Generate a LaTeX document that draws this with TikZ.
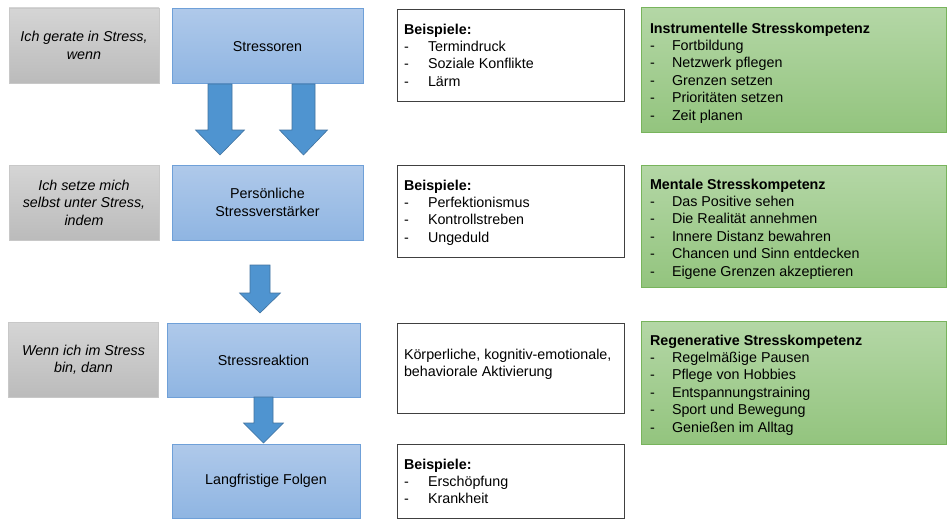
\documentclass[tikz,border=0pt]{standalone}
\usepackage{fontspec}
\setmainfont{Liberation Sans}
\usepackage{xcolor}
\usepackage{array}
\usepackage{tikz}
\usetikzlibrary{calc}

\definecolor{blauOben}{HTML}{AFC9EA}
\definecolor{blauUnten}{HTML}{8FB5E2}
\definecolor{blauRand}{HTML}{6FA0D8}
\definecolor{grauOben}{HTML}{D5D5D5}
\definecolor{grauUnten}{HTML}{BBBBBB}
\definecolor{grauRand}{HTML}{C8C8C8}
\definecolor{gruenOben}{HTML}{B4D7A6}
\definecolor{gruenUnten}{HTML}{93C47E}
\definecolor{gruenRand}{HTML}{78B45C}
\definecolor{pfeilFill}{HTML}{4F94D0}
\definecolor{pfeilRand}{HTML}{41729F}

\tikzset{
  box/.style={minimum width=#1, inner sep=0pt, outer sep=0pt, align=center},
  frage/.style={box=150pt, minimum height=75pt, draw=grauRand, line width=0.8pt,
    top color=grauOben, bottom color=grauUnten, font=\fontsize{14.3}{17.4}\selectfont\itshape},
  stufe/.style={box=#1, minimum height=75pt, draw=blauRand, line width=1pt,
    top color=blauOben, bottom color=blauUnten},
  beispiel/.style={box=227pt, draw=black!75, line width=0.8pt, fill=white},
  kompetenz/.style={box=305pt, draw=gruenRand, line width=1pt,
    top color=gruenOben, bottom color=gruenUnten},
  liste/.style={anchor=north west, inner sep=0pt, outer sep=0pt, align=left},
  pfeil/.style={fill=pfeilFill, draw=pfeilRand, line width=0.6pt, line join=miter}
}

% #1 start, #2 shaft length, #3 head length, #4 shaft half width, #5 head half width
\newcommand{\blockpfeil}[5]{%
  \filldraw[pfeil] #1 ++(-#4,0) -- ++(2*#4,0) -- ++(0,#2) -- ++(#5-#4,0)
    -- ++(-#5,#3) -- ++(-#5,-#3) -- ++(#5-#4,0) -- cycle;}

\begin{document}
\begin{tikzpicture}[x=1pt, y=-1pt, font=\fontsize{14.3}{17.4}\selectfont]
  \useasboundingbox (0,0) rectangle (948,519);

  % linke Spalte
  \node[frage] (frage1) at (84,45.5) {Ich gerate in Stress,\\wenn};
  \node[frage] (frage2) at (84,202.5) {Ich setze mich\\selbst unter Stress,\\indem};
  \node[frage] (frage3) at (83.5,360) {Wenn ich im Stress\\bin, dann};

  % Stufen
  \node[stufe=191pt] (stressoren) at (267.5,46.5) {Stressoren};
  \node[stufe=191pt] (verstaerker) at (267.5,202.5) {Persönliche\\Stressverstärker};
  \node[stufe=193pt, minimum height=74pt] (reaktion) at (263.5,360) {Stressreaktion};
  \node[stufe=188pt, minimum height=74pt] (folgen) at (266,481) {Langfristige Folgen};

  \blockpfeil{([xshift=-47.5pt]stressoren.south)}{46}{25}{12}{24.5}
  \blockpfeil{([xshift=36pt]stressoren.south)}{46}{25}{11.5}{24}
  \blockpfeil{([xshift=-7.5pt, yshift=-25pt]verstaerker.south)}{28}{20}{10}{20.5}
  \blockpfeil{(reaktion.south)}{26}{20}{9.5}{20}

  % Beispiele
  \node[beispiel, minimum height=92pt] (bsp1) at (510.5,55) {};
  \node[beispiel, minimum height=92pt] (bsp2) at (510.5,211) {};
  \node[beispiel, minimum height=90pt] (bsp3) at (510.5,368) {};
  \node[beispiel, minimum height=74pt] (bsp4) at (510.5,481) {};

  \node[liste] (bsp1text) at ([shift={(7,13)}]bsp1.north west) {\begin{tabular}{@{}p{24pt}@{}l@{}}
    \multicolumn{2}{@{}l@{}}{\textbf{Beispiele:}}\\
    -&Termindruck\\ -&Soziale Konflikte\\ -&Lärm
  \end{tabular}};
  \node[liste] (bsp2text) at ([shift={(7,13)}]bsp2.north west) {\begin{tabular}{@{}p{24pt}@{}l@{}}
    \multicolumn{2}{@{}l@{}}{\textbf{Beispiele:}}\\
    -&Perfektionismus\\ -&Kontrollstreben\\ -&Ungeduld
  \end{tabular}};
  \node[liste] (bsp3text) at ([shift={(7,24)}]bsp3.north west) {\begin{tabular}{@{}l@{}}
    Körperliche, kognitiv-emotionale,\\ behaviorale Aktivierung
  \end{tabular}};
  \node[liste] (bsp4text) at ([shift={(7,13)}]bsp4.north west) {\begin{tabular}{@{}p{24pt}@{}l@{}}
    \multicolumn{2}{@{}l@{}}{\textbf{Beispiele:}}\\
    -&Erschöpfung\\ -&Krankheit
  \end{tabular}};

  % Kompetenzen
  \node[kompetenz, minimum height=124pt] (komp1) at (793.5,70) {};
  \node[kompetenz, minimum height=122pt] (komp2) at (793.5,226) {};
  \node[kompetenz, minimum height=123pt] (komp3) at (793.5,382.5) {};

  \node[liste] (komp1text) at ([shift={(9,13)}]komp1.north west) {\begin{tabular}{@{}p{22pt}@{}l@{}}
    \multicolumn{2}{@{}l@{}}{\textbf{Instrumentelle Stresskompetenz}}\\
    -&Fortbildung\\ -&Netzwerk pflegen\\ -&Grenzen setzen\\ -&Prioritäten setzen\\ -&Zeit planen
  \end{tabular}};
  \node[liste] (komp2text) at ([shift={(9,12)}]komp2.north west) {\begin{tabular}{@{}p{22pt}@{}l@{}}
    \multicolumn{2}{@{}l@{}}{\textbf{Mentale Stresskompetenz}}\\
    -&Das Positive sehen\\ -&Die Realität annehmen\\ -&Innere Distanz bewahren\\ -&Chancen und Sinn entdecken\\ -&Eigene Grenzen akzeptieren
  \end{tabular}};
  \node[liste] (komp3text) at ([shift={(9,12)}]komp3.north west) {\begin{tabular}{@{}p{22pt}@{}l@{}}
    \multicolumn{2}{@{}l@{}}{\textbf{Regenerative Stresskompetenz}}\\
    -&Regelmäßige Pausen\\ -&Pflege von Hobbies\\ -&Entspannungstraining\\ -&Sport und Bewegung\\ -&Genießen im Alltag
  \end{tabular}};
\end{tikzpicture}
\end{document}
